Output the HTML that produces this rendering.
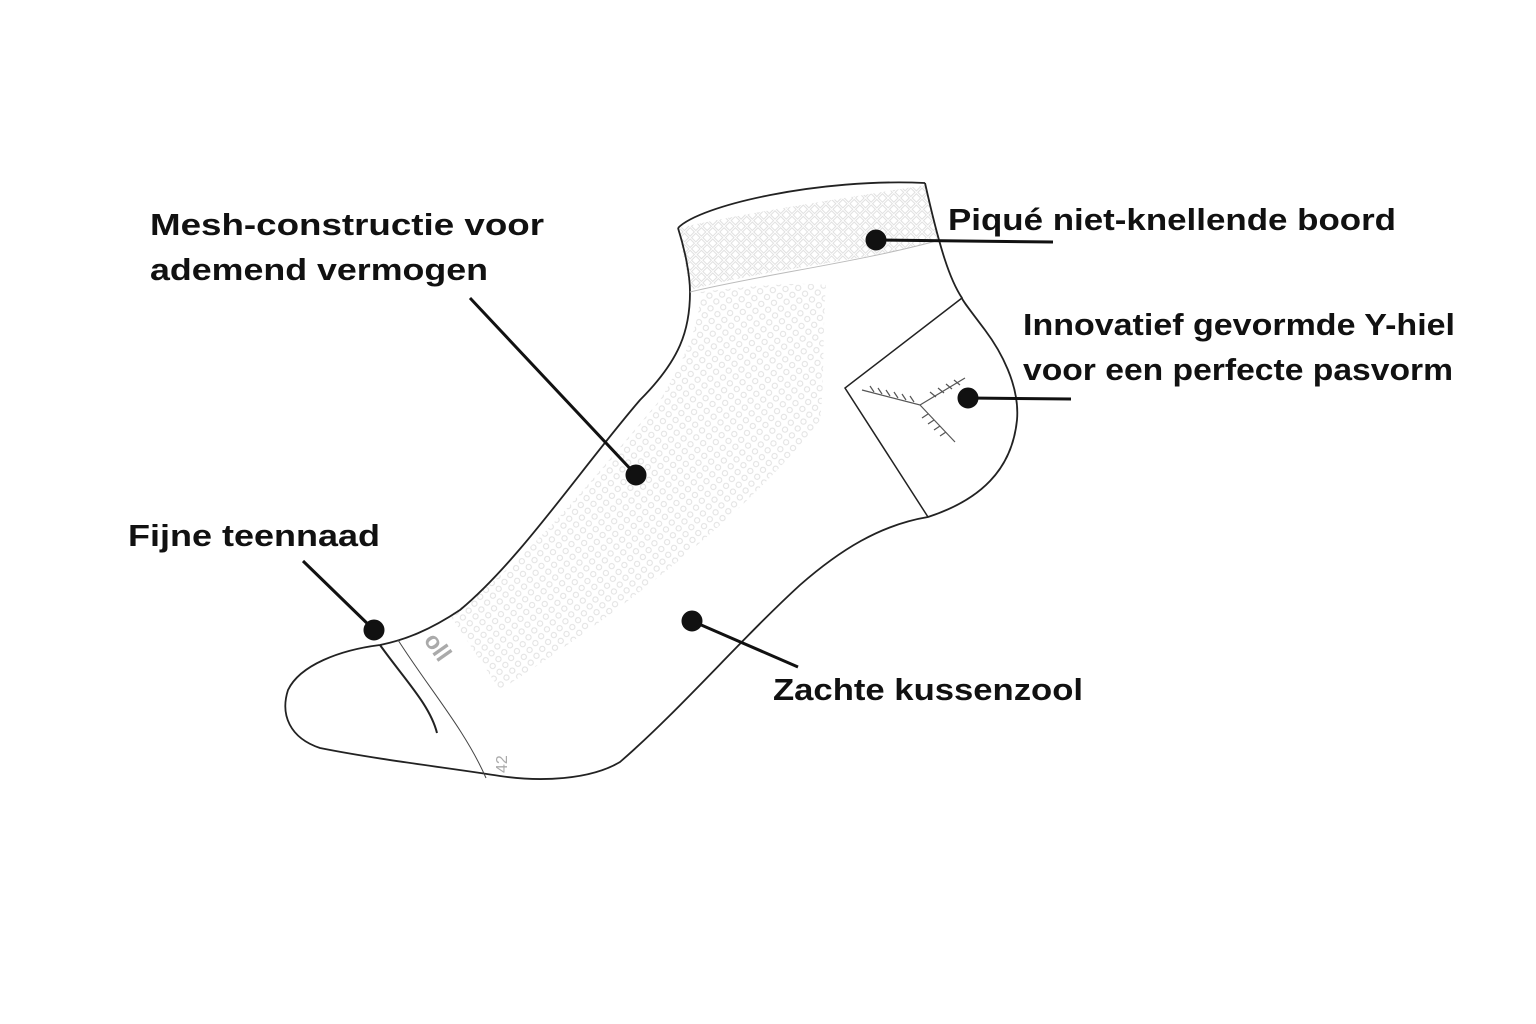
<!DOCTYPE html>
<html><head><meta charset="utf-8"><style>
html,body{margin:0;padding:0;background:#fff;}
svg{display:block;}
text{font-family:"Liberation Sans",sans-serif;font-weight:bold;font-size:31px;fill:#111;}
</style></head><body>
<svg width="1536" height="1024" viewBox="0 0 1536 1024" xmlns="http://www.w3.org/2000/svg">
<defs>
<pattern id="mesh" width="9" height="9" patternUnits="userSpaceOnUse" patternTransform="rotate(40)">
<rect width="9" height="9" fill="#fff"/>
<circle cx="4.5" cy="4.5" r="2.6" fill="none" stroke="#e2e2e2" stroke-width="1"/>
</pattern>
<pattern id="pique" width="8" height="8" patternUnits="userSpaceOnUse" patternTransform="rotate(45)">
<rect width="8" height="8" fill="#fff"/>
<rect x="1" y="1" width="6" height="6" fill="none" stroke="#e0e0e0" stroke-width="1"/>
</pattern>
</defs>
<path d="M678,228 C760,210 860,196 925,185 L940,240 C860,262 760,270 690,290 Z" fill="url(#pique)"/>
<path d="M700,292 C760,285 800,282 826,285 C822,340 825,380 820,420 C760,500 640,600 500,690 C480,660 460,630 450,615 C530,560 600,470 660,400 C690,350 700,320 700,292 Z" fill="url(#mesh)"/>
<path d="M678,228 C685,250 690,275 690,292 C690,330 680,360 640,400 C580,470 520,560 460,610 C430,630 405,640 380,645 C340,650 300,665 288,690 C280,715 290,738 320,748 C380,760 450,768 500,776 C540,782 590,780 620,762 C680,710 740,640 800,585 C840,550 880,525 928,517 C980,500 1012,470 1017,420 C1020,385 1000,350 985,330 C970,310 962,300 962,298 C950,280 940,250 925,183" fill="none" stroke="#222" stroke-width="1.8"/>
<path d="M678,228 C700,205 820,178 925,183" fill="none" stroke="#222" stroke-width="1.8"/>
<path d="M690,292 C760,275 860,262 940,240" fill="none" stroke="#bbb" stroke-width="1"/>
<path d="M962,298 L845,388 L928,517" fill="none" stroke="#222" stroke-width="1.5"/>
<g stroke="#555" stroke-width="1.2" fill="none">
<path d="M862,390 L920,405 L965,378"/><path d="M920,405 L955,442"/>
<path d="M870,386 l4,6 M878,388 l4,6 M886,390 l4,6 M894,392 l4,6 M902,394 l4,6 M910,396 l4,6"/>
<path d="M930,392 l6,5 M938,388 l6,5 M946,384 l6,5 M954,380 l6,5"/>
<path d="M928,414 l-6,4 M934,420 l-6,4 M940,426 l-6,4 M946,432 l-6,4"/>
</g>
<path d="M380,645 C405,680 430,705 437,733" fill="none" stroke="#222" stroke-width="2"/>
<path d="M398,640 C430,690 465,730 486,778" fill="none" stroke="#444" stroke-width="1"/>
<text x="418" y="650" transform="rotate(55 430 650)" style="font-size:24px;fill:#aaa;">oll</text>
<text x="492" y="772" transform="rotate(-90 500 765)" style="font-size:16px;fill:#aaa;font-weight:normal;">42</text>
<g stroke="#111" stroke-width="3" fill="#111">
<line x1="470" y1="298" x2="636" y2="475"/><circle cx="636" cy="475" r="9"/>
<line x1="876" y1="240" x2="1053" y2="242"/><circle cx="876" cy="240" r="9"/>
<line x1="968" y1="398" x2="1071" y2="399"/><circle cx="968" cy="398" r="9"/>
<line x1="303" y1="561" x2="374" y2="630"/><circle cx="374" cy="630" r="9"/>
<line x1="692" y1="621" x2="798" y2="667"/><circle cx="692" cy="621" r="9"/>
</g>
<text x="150" y="235" textLength="394" lengthAdjust="spacingAndGlyphs">Mesh-constructie voor</text>
<text x="150" y="280" textLength="338" lengthAdjust="spacingAndGlyphs">ademend vermogen</text>
<text x="948" y="230" textLength="448" lengthAdjust="spacingAndGlyphs">Piqué niet-knellende boord</text>
<text x="1023" y="335" textLength="432" lengthAdjust="spacingAndGlyphs">Innovatief gevormde Y-hiel</text>
<text x="1023" y="380" textLength="430" lengthAdjust="spacingAndGlyphs">voor een perfecte pasvorm</text>
<text x="128" y="546" textLength="252" lengthAdjust="spacingAndGlyphs">Fijne teennaad</text>
<text x="773" y="700" textLength="310" lengthAdjust="spacingAndGlyphs">Zachte kussenzool</text>
</svg>
</body></html>
